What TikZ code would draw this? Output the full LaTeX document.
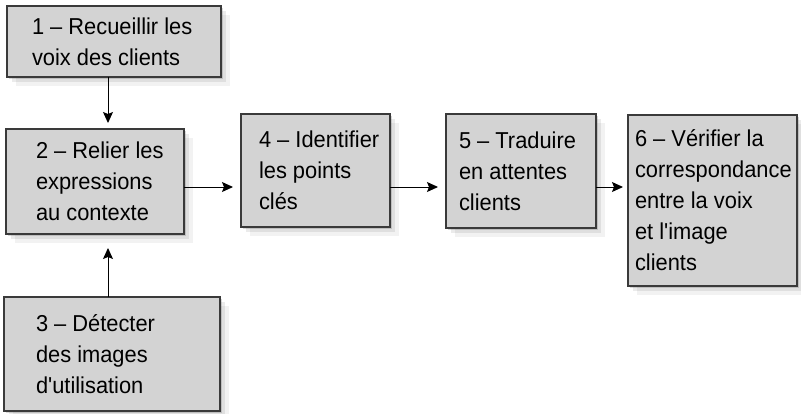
\documentclass[tikz,border=0pt]{standalone}
\usepackage{fontspec}
\newfontfamily\stepfont{Liberation Sans}[FakeStretch=0.95]
\usepackage{xcolor}
\definecolor{boxFill}{HTML}{D3D3D3}
\definecolor{boxLine}{HTML}{3A3A3A}
\usetikzlibrary{shadows, arrows.meta, positioning}

\begin{document}
\begin{tikzpicture}[
    x=1pt, y=-1pt,
    every node/.style={outer sep=0pt},
    stepBox/.style={draw=boxLine, fill=boxFill, line width=1.2pt, inner sep=0pt,
        drop shadow={shadow xshift=2pt, shadow yshift=-2pt, opacity=0.15, fill=black},
        drop shadow={shadow xshift=5pt, shadow yshift=-5pt, opacity=0.08, fill=black},
        drop shadow={shadow xshift=9pt, shadow yshift=-9pt, opacity=0.05, fill=black}},
    stepText/.style={align=left, inner sep=0pt, anchor=west, text=black,
        font=\stepfont\fontsize{23}{31}\selectfont},
    flowArrow/.style={-{Stealth[length=11pt, width=10pt, inset=2pt]}, line width=1pt, black}
]
    \useasboundingbox (0,0) rectangle (801,413);

    % Left column of steps
    \node (recueillir) [stepBox, anchor=north west, minimum width=214pt, minimum height=71pt] at (7,6) {};
    \node (relier) [stepBox, below=52pt of recueillir.south west, anchor=north west, xshift=-1pt,
        minimum width=178pt, minimum height=105pt] {};
    \node (detecter) [stepBox, below=63pt of relier.south west, anchor=north west, xshift=-2pt,
        minimum width=216pt, minimum height=114pt] {};

    % Row of steps to the right
    \node (identifier) [stepBox, anchor=north west, minimum width=149pt, minimum height=113pt] at (241,114) {};
    \node (traduire) [stepBox, right=56pt of identifier.north east, anchor=north west,
        minimum width=150pt, minimum height=114pt] {};
    \node (verifier) [stepBox, right=32pt of traduire.north east, anchor=north west, yshift=-1pt,
        minimum width=169pt, minimum height=171pt] {};

    % Step texts
    \node (recueillir_txt) [stepText, right=25pt of recueillir.west] {1 – Recueillir les\\voix des clients};
    \node (relier_txt) [stepText, right=30pt of relier.west] {2 – Relier les\\expressions\\au contexte};
    \node (detecter_txt) [stepText, right=32pt of detecter.west] {3 – Détecter\\des images\\d'utilisation};
    \node (identifier_txt) [stepText, right=18pt of identifier.west] {4 – Identifier\\les points\\clés};
    \node (traduire_txt) [stepText, right=13pt of traduire.west] {5 – Traduire\\en attentes\\clients};
    \node (verifier_txt) [stepText, right=7pt of verifier.west]
        {6 – Vérifier la\\correspondance\\entre la voix\\et l'image\\clients};

    % Connect steps
    \coordinate (col) at (108,0);
    \coordinate (row) at (0,187);
    \draw [flowArrow, shorten >=6pt] (recueillir.south -| col) -- (relier.north -| col);
    \draw [flowArrow, shorten >=14pt] (detecter.north -| col) -- (relier.south -| col);
    \draw [flowArrow, shorten >=8pt] (relier.east |- row) -- (identifier.west |- row);
    \draw [flowArrow, shorten >=8pt] (identifier.east |- row) -- (traduire.west |- row);
    \draw [flowArrow, shorten >=5pt] (traduire.east |- row) -- (verifier.west |- row);
\end{tikzpicture}
\end{document}
